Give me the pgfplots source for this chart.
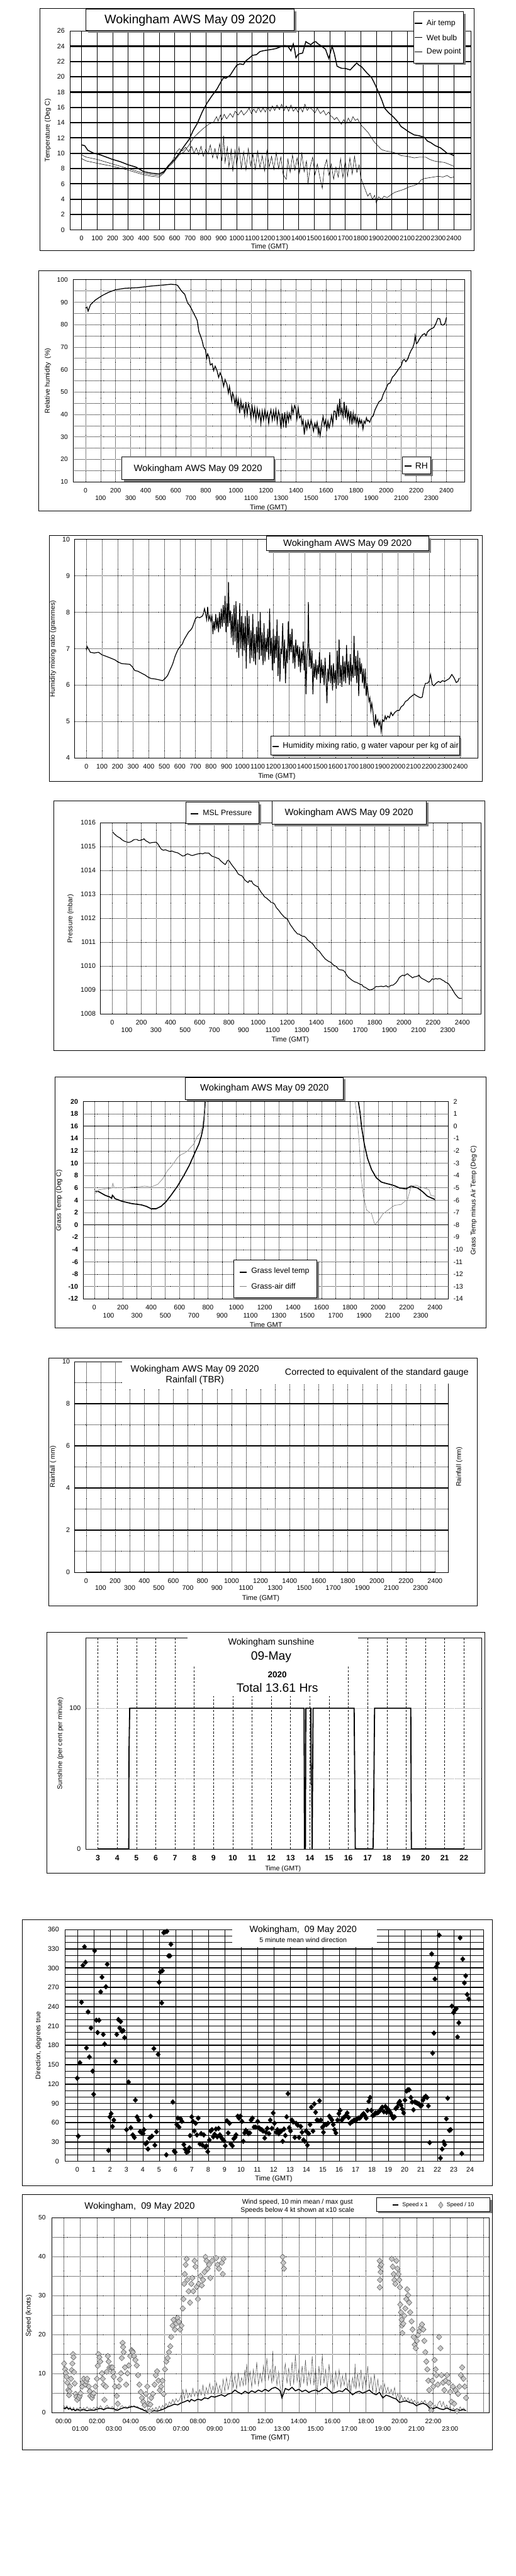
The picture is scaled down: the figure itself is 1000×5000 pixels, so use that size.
\documentclass[border=0pt]{standalone}
\usepackage{fontspec}
\setmainfont{Liberation Sans}
\usepackage{pgfplots}
\pgfplotsset{compat=1.18}

\newcommand\fs[1]{\fontsize{#1}{#1}\selectfont}
% horizontal / vertical reference lines inside an axis
\newcommand\hl[4]{\pgfplotsinvokeforeach{#2}{\draw[#1] (axis cs:#3,##1) -- (axis cs:#4,##1);}}
\newcommand\vl[4]{\pgfplotsinvokeforeach{#2}{\draw[#1] (axis cs:##1,#3) -- (axis cs:##1,#4);}}
% box with drop shadow (used in the x=1pt,y=-1pt scope)
\newcommand\shbox[4]{\fill[black!50] ({#1+4},{#2+4}) rectangle ({#3+4},{#4+4});
  \filldraw[fill=white,draw=black,line width=1pt] (#1,#2) rectangle (#3,#4);}

\tikzset{dg/.style={black,line width=0.6pt,dash pattern=on 0.9pt off 1.5pt}}
\pgfplotsset{wk/.style={scale only axis, anchor=south west,
  axis line style={line width=0.9pt}, tick style={draw=none},
  major tick length=0pt, minor tick length=0pt,
  /pgf/number format/assume math mode=true, /pgf/number format/1000 sep={},
  tick label style={font=\fs{13}}}}

\begin{document}
\begin{tikzpicture}
\path[use as bounding box] (0pt,0pt) rectangle (1000pt,-5000pt);
\fill[white] (0pt,0pt) rectangle (1000pt,-5000pt);

% ================= 1. Temperatures =================
\begin{axis}[wk, at={(136pt,-446pt)}, width=778pt, height=386pt,
  xmin=-74, xmax=2512, ymin=0, ymax=26,
  xtick={0,100,...,2400}, ytick={0,2,...,26},
  xticklabel style={yshift=-8pt}, yticklabel style={xshift=-7pt}]
\vl{black,line width=0.7pt}{0,100,...,2400}{0}{26}
\hl{black,line width=2.6pt}{2,4,...,24}{-74}{2512}
% dew point
\addplot[black,line width=0.7pt] coordinates {(0,9.3)(30,9.0)(100,8.7)(200,8.3)(300,7.8)(400,7.2)(450,7.0)(500,6.9)(530,7.4)(560,8.3)(590,9.2)(610,10.1)(630,10.6)(650,10.3)(670,10.8)(690,10.2)(710,10.9)(725,10.0)(740,10.7)(755,9.8)(770,10.9)(785,9.6)(800,10.5)(815,9.9)(830,11.1)(845,9.4)(860,10.6)(875,9.3)(890,11.3)(905,9.0)(916,12.3)(925,8.8)(940,10.8)(950,8.2)(965,10.5)(975,7.6)(990,10.4)(1000,8.4)(1015,10.8)(1030,8.0)(1045,10.2)(1060,7.8)(1075,10.6)(1090,8.3)(1105,9.9)(1120,7.9)(1135,10.3)(1150,8.1)(1165,9.7)(1180,7.7)(1195,10.4)(1210,8.2)(1225,9.6)(1240,7.9)(1255,10.1)(1270,8.0)(1285,9.5)(1300,7.2)(1320,6.6)(1330,9.2)(1345,7.5)(1360,9.8)(1375,7.8)(1390,9.4)(1405,7.4)(1420,10.0)(1435,7.6)(1450,9.0)(1460,6.1)(1475,8.3)(1490,9.5)(1505,7.2)(1520,8.6)(1535,7.0)(1552,5.4)(1565,8.1)(1580,9.2)(1595,7.1)(1610,8.6)(1625,6.6)(1640,8.2)(1655,6.9)(1670,9.3)(1685,6.8)(1700,9.0)(1715,7.0)(1730,9.4)(1745,7.3)(1760,9.6)(1775,7.5)(1790,8.5)(1800,6.8)(1815,6.0)(1830,5.2)(1845,4.4)(1860,4.8)(1875,4.0)(1890,4.5)(1900,3.5)(1915,4.3)(1935,4.0)(1950,4.4)(1970,4.2)(1996,4.6)(2020,4.9)(2050,5.1)(2080,5.3)(2110,5.6)(2145,5.8)(2170,6.0)(2188,6.5)(2210,6.7)(2240,6.8)(2270,6.9)(2300,7.0)(2330,6.9)(2357,7.1)(2380,6.8)(2399,6.9)};
% wet bulb
\addplot[black,line width=0.7pt] coordinates {(0,9.8)(30,9.5)(100,9.2)(200,8.6)(300,8.0)(350,7.7)(400,7.4)(450,7.2)(500,7.1)(530,7.5)(560,8.2)(600,9.0)(630,9.8)(661,10.2)(690,11.0)(725,12.1)(760,12.8)(788,13.3)(820,13.8)(852,14.1)(870,14.8)(880,14.2)(895,15.0)(905,14.4)(920,15.1)(935,14.5)(958,15.2)(975,14.7)(990,15.5)(1010,15.0)(1030,15.6)(1045,15.0)(1064,15.4)(1080,15.9)(1095,15.2)(1110,15.8)(1125,15.3)(1140,16.0)(1155,15.4)(1170,15.9)(1185,15.4)(1200,16.1)(1215,15.5)(1230,16.2)(1245,15.6)(1260,16.3)(1276,15.7)(1290,16.4)(1305,15.6)(1320,16.2)(1335,15.5)(1350,16.3)(1365,15.5)(1382,15.9)(1395,15.4)(1410,16.0)(1425,15.4)(1440,16.4)(1455,15.6)(1470,16.0)(1488,15.7)(1505,15.3)(1520,15.9)(1540,15.2)(1560,15.6)(1575,15.0)(1594,15.4)(1605,14.9)(1615,14.8)(1630,14.4)(1645,14.7)(1658,14.3)(1675,13.8)(1690,14.4)(1705,13.9)(1720,14.6)(1735,14.0)(1750,14.8)(1764,14.3)(1780,14.5)(1790,14.1)(1806,13.6)(1830,13.1)(1848,12.7)(1870,12.0)(1890,11.4)(1910,11.0)(1933,10.5)(1960,10.3)(1996,10.2)(2030,10.0)(2060,9.7)(2100,9.6)(2145,9.4)(2180,9.5)(2219,9.5)(2245,9.2)(2272,9.0)(2300,8.9)(2340,8.8)(2378,8.5)(2399,8.3)};
% air temperature
\addplot[black,line width=1.8pt] coordinates {(0,11.1)(20,11.0)(40,10.4)(80,10.0)(120,9.8)(160,9.5)(200,9.2)(250,8.9)(300,8.5)(350,8.2)(400,7.6)(450,7.4)(500,7.3)(530,7.6)(560,8.4)(600,9.2)(630,10.0)(660,10.9)(693,11.8)(720,13.0)(746,13.9)(780,15.5)(810,16.6)(840,17.5)(873,18.4)(900,19.4)(916,19.9)(930,19.8)(958,20.2)(980,20.9)(1000,21.5)(1020,21.7)(1043,21.6)(1060,22.1)(1085,22.5)(1100,22.8)(1128,22.9)(1150,23.3)(1170,23.4)(1200,23.5)(1230,23.6)(1255,23.7)(1280,23.9)(1297,24.0)(1310,24.1)(1329,24.0)(1340,23.7)(1350,23.4)(1365,24.3)(1375,23.4)(1382,22.5)(1395,22.9)(1403,23.0)(1425,23.1)(1446,24.6)(1460,24.4)(1478,24.2)(1495,24.5)(1510,24.6)(1525,24.3)(1541,24.1)(1560,23.8)(1573,23.6)(1585,22.9)(1594,22.4)(1605,23.2)(1615,24.0)(1630,23.0)(1647,21.4)(1665,21.2)(1679,21.1)(1700,21.1)(1732,20.9)(1755,21.4)(1774,21.8)(1790,21.5)(1806,21.3)(1840,20.5)(1870,19.9)(1890,19.1)(1912,18.1)(1935,17.0)(1954,15.9)(1980,15.3)(2008,14.8)(2040,14.1)(2060,13.5)(2082,13.2)(2110,12.8)(2145,12.4)(2175,12.3)(2209,12.1)(2230,11.6)(2251,11.4)(2280,11.0)(2315,10.7)(2340,10.3)(2357,10.0)(2380,9.9)(2399,9.7)};
\end{axis}

% ================= 2. Relative humidity =================
\begin{axis}[wk, at={(142pt,-935pt)}, width=759pt, height=392pt,
  xmin=-82, xmax=2520, ymin=10, ymax=100,
  xtick={0,200,...,2400}, extra x ticks={100,300,...,2300},
  extra x tick style={xticklabel style={yshift=-15pt}},
  ytick={10,20,...,100}, tick label style={font=\fs{12.5}},
  xticklabel style={yshift=-9pt}, yticklabel style={xshift=-7pt}]
\vl{dg}{0,100,...,2400}{10}{100}
\hl{dg}{15,20,...,95}{-82}{2520}
\addplot[black,line width=1.6pt] coordinates {(0,87.4)(10,87.8)(17,86)(33,88.9)(66,91)(109,92.9)(153,94.4)(197,95.5)(262,96.2)(350,96.5)(437,97.2)(525,97.7)(568,98)(600,97.8)(612,97.5)(638,95)(660,93.5)(667,92.0)(680,89.5)(689,88.9)(705,87)(721,84.8)(735,83)(743,81.8)(754,76.8)(765,75)(776,72.7)(785,70)(798,68.7)(805,65)(812,67)(820,65.7)(830,62)(842,62.6)(852,59.5)(862,61.5)(874,59.6)(885,56.5)(895,58.5)(907,56.6)(918,52.5)(928,55.5)(940,53.5)(950,49.5)(957,52.5)(962,50.5)(972,46)(978,49.5)(984,48.5)(994,44.5)(1002,47.8)(1010,43.5)(1016,46.5)(1025,40.5)(1033,46.0)(1040,42.5)(1049,44.4)(1058,39.5)(1066,45.5)(1075,40.0)(1083,44.8)(1093,42.4)(1100,38.5)(1108,43.5)(1117,39.0)(1125,43.0)(1133,37.5)(1142,42.5)(1150,38.5)(1158,41.4)(1166,36.0)(1175,41.5)(1184,37.5)(1192,41.8)(1200,38.0)(1210,41.0)(1218,36.0)(1224,39.4)(1233,42.0)(1242,37.5)(1250,41.5)(1258,38.0)(1266,42.0)(1275,36.5)(1283,41.5)(1290,39.9)(1300,33.5)(1308,40.5)(1316,35.5)(1325,41.0)(1333,34.0)(1341,40.5)(1350,37.0)(1355,40.4)(1365,38.0)(1372,43.5)(1380,40.5)(1390,44.0)(1399,42.4)(1406,38.0)(1414,43.0)(1422,38.5)(1432,39.4)(1440,35.5)(1447,37.5)(1455,31.0)(1464,36.4)(1472,33.5)(1480,37.0)(1490,34.0)(1500,37.5)(1508,35.3)(1516,32.5)(1525,36.0)(1533,34.0)(1540,36.5)(1548,31.5)(1552,33.8)(1560,30.5)(1570,35.5)(1580,39.0)(1588,35.0)(1596,37.4)(1605,33.5)(1612,37.0)(1620,34.0)(1628,36.4)(1636,39.5)(1644,35.5)(1652,41.5)(1661,41.4)(1668,37.5)(1676,44.5)(1684,39.0)(1690,47.0)(1697,40.5)(1705,42.4)(1713,39.0)(1720,45.5)(1728,38.5)(1735,44.0)(1742,38.0)(1749,41.4)(1757,36.5)(1764,41.5)(1772,35.5)(1780,40.5)(1786,37.0)(1793,39.4)(1800,36.0)(1808,38.5)(1815,35.0)(1822,38.0)(1829,36.0)(1836,37.4)(1845,33.5)(1852,37.0)(1860,36.0)(1868,38.5)(1875,37.0)(1880,37.4)(1890,36.5)(1900,38.5)(1913,39.4)(1925,42.0)(1935,43.4)(1950,45.5)(1968,46.5)(1980,49.0)(1995,51.0)(2011,53.5)(2025,54.0)(2040,56.5)(2055,57.6)(2070,59.0)(2085,60.5)(2099,61.6)(2110,64.0)(2120,64.5)(2130,63.5)(2142,64.6)(2155,67.0)(2165,68.5)(2175,69.6)(2185,71.5)(2192,75.0)(2200,71.5)(2208,72.0)(2220,73.5)(2230,74.5)(2241,75.5)(2255,76.0)(2265,75.0)(2273,76.7)(2290,77.8)(2305,78.3)(2317,78.8)(2330,80.5)(2343,82.8)(2356,82.6)(2365,80.0)(2378,79.8)(2390,80.5)(2400,83.1)};
\end{axis}

% ================= 3. Mixing ratio =================
\begin{axis}[wk, at={(145pt,-1471pt)}, width=782pt, height=424pt,
  xmin=-75, xmax=2513, ymin=4, ymax=10,
  xtick={0,100,...,2400}, ytick={4,5,...,10},
  xticklabel style={yshift=-9pt}, yticklabel style={xshift=-6pt}]
\vl{dg}{0,100,...,2400}{4}{10}
\hl{dg}{5,6,...,9}{-75}{2513}
\addplot[black,line width=1.5pt] coordinates {(0,6.95)(4,7.06)(15,6.98)(25,6.90)(50,6.88)(78,6.90)(100,6.83)(120,6.80)(150,6.75)(184,6.69)(200,6.64)(226,6.59)(250,6.58)(278,6.57)(295,6.50)(310,6.40)(330,6.38)(352,6.33)(375,6.28)(395,6.22)(415,6.18)(437,6.17)(460,6.15)(489,6.12)(505,6.18)(521,6.26)(535,6.40)(553,6.57)(570,6.80)(585,6.95)(600,7.05)(616,7.13)(627,7.25)(637,7.32)(655,7.45)(669,7.51)(680,7.58)(690,7.70)(700,7.82)(711,7.87)(727,7.85)(743,7.89)(750,7.95)(758,8.10)(764,7.98)(772,7.80)(778,8.15)(785,7.79)(792,7.90)(799,7.75)(806,7.89)(812,7.40)(818,7.75)(824,7.50)(830,7.95)(836,7.55)(842,7.85)(848,7.45)(854,8.00)(860,7.55)(866,8.10)(872,7.60)(878,8.20)(884,7.70)(890,8.45)(896,7.45)(902,8.25)(908,7.60)(912,8.83)(918,7.70)(924,8.05)(930,7.30)(936,7.95)(942,7.10)(948,8.20)(954,7.20)(960,8.30)(966,6.90)(972,7.80)(978,6.75)(984,8.25)(990,7.00)(996,7.90)(1002,6.80)(1008,7.70)(1014,6.95)(1020,7.90)(1026,6.45)(1032,8.05)(1038,7.10)(1044,7.90)(1050,6.60)(1056,7.50)(1062,6.75)(1068,7.95)(1074,6.65)(1080,7.40)(1086,6.55)(1092,7.60)(1098,6.90)(1104,7.75)(1110,6.70)(1116,8.00)(1122,6.80)(1128,7.45)(1134,6.55)(1140,7.70)(1146,6.65)(1152,7.30)(1158,6.90)(1164,7.55)(1170,6.70)(1176,8.10)(1182,6.80)(1188,7.30)(1194,6.40)(1200,7.55)(1206,6.60)(1212,7.35)(1218,6.75)(1224,7.80)(1230,6.25)(1236,7.35)(1242,6.10)(1248,7.00)(1254,6.85)(1260,7.70)(1266,6.45)(1272,7.25)(1278,6.05)(1284,7.00)(1290,6.60)(1296,7.75)(1302,6.70)(1308,7.40)(1314,6.90)(1320,7.55)(1326,6.60)(1332,7.10)(1338,6.45)(1344,7.25)(1350,6.80)(1356,7.10)(1362,6.50)(1368,7.05)(1374,6.35)(1380,6.95)(1386,6.60)(1392,7.20)(1398,6.40)(1404,7.00)(1410,5.75)(1416,6.85)(1422,7.10)(1425,8.28)(1430,6.50)(1436,7.00)(1442,6.45)(1448,6.95)(1454,5.75)(1460,6.60)(1466,6.20)(1472,6.70)(1478,6.15)(1484,6.55)(1490,6.30)(1496,6.90)(1502,6.05)(1508,6.70)(1514,6.20)(1520,6.55)(1526,6.00)(1532,6.75)(1538,6.20)(1544,5.50)(1550,6.45)(1556,6.10)(1562,6.90)(1568,6.05)(1574,6.55)(1580,5.85)(1586,6.60)(1592,6.05)(1598,6.40)(1604,5.90)(1610,6.95)(1616,6.00)(1622,7.25)(1628,6.05)(1634,6.55)(1640,5.95)(1646,6.80)(1652,6.10)(1658,6.65)(1664,6.05)(1670,7.10)(1676,6.20)(1682,6.65)(1688,6.00)(1694,6.85)(1700,6.10)(1706,6.55)(1712,6.20)(1718,7.35)(1724,6.25)(1730,6.80)(1736,6.05)(1742,6.95)(1748,5.70)(1754,6.75)(1760,6.30)(1766,6.60)(1772,6.05)(1778,6.45)(1784,5.90)(1790,6.45)(1796,5.70)(1802,6.05)(1808,5.80)(1814,5.55)(1820,5.65)(1826,5.30)(1832,5.50)(1840,5.25)(1845,4.95)(1850,4.87)(1856,5.20)(1862,4.95)(1870,5.05)(1878,4.90)(1885,5.00)(1892,4.73)(1900,5.05)(1910,5.00)(1918,5.15)(1924,5.06)(1935,5.15)(1945,5.10)(1955,5.25)(1966,5.16)(1980,5.25)(1995,5.30)(2008,5.30)(2020,5.40)(2035,5.45)(2048,5.55)(2061,5.58)(2075,5.65)(2090,5.70)(2105,5.75)(2114,5.72)(2130,5.68)(2145,5.65)(2156,5.67)(2165,5.90)(2177,6.05)(2190,6.05)(2200,6.10)(2209,6.29)(2220,6.02)(2230,5.98)(2245,6.05)(2260,6.10)(2272,6.07)(2285,6.12)(2300,6.10)(2315,6.14)(2330,6.18)(2346,6.29)(2360,6.20)(2374,6.07)(2385,6.10)(2393,6.19)};
\end{axis}

% ================= 4. Pressure =================
\begin{axis}[wk, at={(195pt,-1968pt)}, width=738pt, height=371pt,
  xmin=-80, xmax=2528, ymin=1008, ymax=1016,
  xtick={0,200,...,2400}, extra x ticks={100,300,...,2300},
  extra x tick style={xticklabel style={yshift=-15pt}},
  ytick={1008,1009,...,1016},
  xticklabel style={yshift=-8pt}, yticklabel style={xshift=-6pt}]
\vl{dg}{0,100,...,2400}{1008}{1016}
\hl{dg}{1009,1010,...,1015}{-80}{2528}
\addplot[black,line width=1.4pt] coordinates {(5,1015.62)(12,1015.55)(20,1015.51)(30,1015.45)(43,1015.40)(55,1015.36)(65,1015.30)(80,1015.24)(88,1015.22)(100,1015.20)(110,1015.18)(122,1015.19)(135,1015.23)(145,1015.28)(155,1015.30)(170,1015.30)(180,1015.26)(189,1015.26)(200,1015.28)(210,1015.30)(218,1015.33)(230,1015.25)(245,1015.20)(257,1015.15)(270,1015.17)(285,1015.18)(302,1015.19)(315,1015.10)(325,1015.00)(336,1014.90)(350,1014.85)(365,1014.87)(381,1014.83)(395,1014.80)(410,1014.82)(425,1014.78)(437,1014.76)(450,1014.74)(465,1014.68)(482,1014.61)(495,1014.62)(505,1014.66)(515,1014.70)(527,1014.68)(540,1014.64)(550,1014.63)(561,1014.65)(575,1014.68)(590,1014.70)(606,1014.72)(620,1014.70)(635,1014.74)(650,1014.73)(662,1014.73)(675,1014.65)(685,1014.60)(696,1014.58)(710,1014.55)(720,1014.52)(730,1014.50)(745,1014.40)(760,1014.32)(775,1014.25)(785,1014.35)(790,1014.42)(797,1014.43)(805,1014.38)(815,1014.28)(825,1014.20)(835,1014.12)(842,1014.07)(855,1013.95)(865,1013.85)(880,1013.80)(890,1013.78)(899,1013.70)(910,1013.60)(920,1013.55)(932,1013.50)(940,1013.58)(948,1013.55)(955,1013.57)(965,1013.45)(975,1013.40)(989,1013.35)(1000,1013.32)(1010,1013.20)(1020,1013.10)(1034,1012.99)(1045,1012.90)(1060,1012.84)(1070,1012.78)(1079,1012.74)(1090,1012.66)(1100,1012.66)(1113,1012.60)(1125,1012.45)(1140,1012.35)(1158,1012.20)(1170,1012.12)(1180,1012.05)(1190,1012.02)(1203,1011.95)(1215,1011.80)(1225,1011.70)(1235,1011.62)(1248,1011.50)(1260,1011.42)(1270,1011.35)(1282,1011.34)(1295,1011.28)(1305,1011.25)(1315,1011.25)(1327,1011.20)(1340,1011.10)(1350,1011.05)(1360,1011.00)(1372,1010.95)(1385,1010.85)(1395,1010.75)(1406,1010.69)(1420,1010.62)(1432,1010.52)(1440,1010.45)(1450,1010.38)(1460,1010.30)(1472,1010.25)(1483,1010.20)(1495,1010.17)(1505,1010.12)(1515,1010.05)(1525,1010.02)(1537,1009.98)(1550,1009.88)(1560,1009.85)(1572,1009.84)(1585,1009.82)(1595,1009.76)(1605,1009.65)(1618,1009.54)(1630,1009.48)(1642,1009.42)(1652,1009.38)(1663,1009.34)(1675,1009.32)(1688,1009.28)(1700,1009.24)(1712,1009.22)(1722,1009.14)(1732,1009.12)(1743,1009.08)(1755,1009.03)(1766,1009.00)(1778,1009.02)(1790,1009.05)(1799,1009.10)(1810,1009.15)(1822,1009.14)(1833,1009.15)(1845,1009.16)(1858,1009.14)(1870,1009.16)(1878,1009.18)(1890,1009.13)(1901,1009.15)(1912,1009.20)(1923,1009.20)(1935,1009.25)(1945,1009.30)(1957,1009.40)(1968,1009.52)(1980,1009.58)(1991,1009.62)(2003,1009.60)(2015,1009.65)(2025,1009.68)(2035,1009.62)(2045,1009.58)(2059,1009.51)(2070,1009.55)(2080,1009.56)(2092,1009.58)(2104,1009.62)(2115,1009.52)(2125,1009.48)(2138,1009.44)(2150,1009.40)(2160,1009.36)(2171,1009.33)(2182,1009.38)(2194,1009.47)(2205,1009.45)(2218,1009.48)(2230,1009.46)(2240,1009.48)(2250,1009.47)(2262,1009.42)(2275,1009.38)(2284,1009.33)(2295,1009.30)(2306,1009.26)(2318,1009.15)(2330,1009.05)(2340,1008.94)(2351,1008.83)(2362,1008.75)(2372,1008.68)(2381,1008.65)(2396,1008.65)};
\end{axis}

% ================= 5. Grass temperature =================
\begin{axis}[wk, at={(161pt,-2521pt)}, width=709pt, height=383pt,
  xmin=-80, xmax=2495, ymin=-12, ymax=20,
  xtick={0,200,...,2400}, extra x ticks={100,300,...,2300},
  extra x tick style={xticklabel style={yshift=-16pt}},
  ytick={-12,-10,...,20},
  yticklabels={-12,-10,-8,-6,-4,-2,0,2,4,6,8,10,12,14,16,18,20},
  xticklabel style={yshift=-8pt},
  yticklabel style={xshift=-6pt,font=\bfseries\fs{13}}]
\vl{dg}{0,100,...,2400}{-12}{20}
\hl{dg}{-10,-8,...,-2}{-80}{2495}
\hl{dg}{2,4,...,14}{-80}{2495}
\hl{dg}{18}{-80}{2495}
\hl{black,line width=0.8pt}{0,16}{-80}{2495}
\addplot[black,line width=2pt] coordinates {(7,5.45)(30,5.39)(76,4.79)(111,4.49)(122,4.3)(127,4.79)(135,4.6)(146,4.25)(192,3.84)(262,3.45)(331,3.24)(366,3.00)(401,2.61)(435,2.61)(470,3.00)(505,3.75)(540,4.79)(586,6.28)(632,8.07)(667,9.56)(702,11.35)(737,13.14)(753,14.33)(767,15.82)(776,18.21)(781,20)(800,24)(1840,24)(1860,20)(1872,18.2)(1883,15.8)(1902,13.1)(1925,10.75)(1953,8.96)(1987,7.62)(2022,6.94)(2050,6.75)(2080,6.58)(2115,6.34)(2150,5.98)(2196,5.83)(2231,6.28)(2277,5.98)(2312,5.39)(2347,4.64)(2398,4.13)};
\end{axis}
\begin{axis}[wk, at={(161pt,-2521pt)}, width=709pt, height=383pt,
  xmin=-80, xmax=2495, ymin=-14, ymax=2,
  axis x line=none, axis y line*=right,
  ytick={-14,-13,...,2},
  yticklabels={-14,-13,-12,-11,-10,-9,-8,-7,-6,-5,-4,-3,-2,-1,0,1,2},
  yticklabel style={xshift=6pt}]
\addplot[black!50,line width=0.8pt] coordinates {(7,-5.46)(30,-5.16)(76,-5.08)(123,-5.01)(130,-4.64)(141,-5.01)(180,-4.98)(215,-5.01)(260,-4.95)(308,-4.93)(354,-4.86)(401,-4.93)(447,-4.71)(482,-4.26)(516,-3.59)(540,-3.3)(563,-2.92)(586,-2.55)(609,-2.32)(632,-2.2)(655,-2.03)(680,-1.7)(702,-1.43)(725,-0.83)(748,-0.53)(762,0.06)(771,0.66)(785,2)(795,4)(1830,4)(1837,2)(1849,0.96)(1865,-1.13)(1879,-4.11)(1895,-5.6)(1918,-6.8)(1953,-7.1)(1976,-7.99)(2000,-7.69)(2034,-7.1)(2069,-6.80)(2115,-6.42)(2161,-6.35)(2208,-5.9)(2231,-4.86)(2266,-4.79)(2300,-4.95)(2324,-5.01)(2358,-5.16)(2370,-5.6)(2398,-5.68)};
\end{axis}

% ================= 6. Rainfall =================
\begin{axis}[wk, at={(145pt,-3052pt)}, width=724pt, height=409pt, clip=false,
  xmin=-78, xmax=2489, ymin=0, ymax=10,
  xtick={0,200,...,2400}, extra x ticks={100,300,...,2300},
  extra x tick style={xticklabel style={yshift=-14pt}},
  ytick={0,2,...,10},
  xticklabel style={yshift=-8pt}, yticklabel style={xshift=-6pt}]
\vl{dg}{0,100,...,2400}{0}{10}
\hl{dg}{1,3,...,9}{-78}{2489}
\hl{black,line width=2.2pt}{2,4,...,8}{-78}{2489}
\addplot[black,line width=2.6pt] coordinates {(0,0)(2400,0)};
\end{axis}

% ================= 7. Sunshine =================
\begin{axis}[wk, at={(167pt,-3589pt)}, width=767pt, height=410pt,
  xmin=2.385, xmax=22.91, ymin=0, ymax=150,
  xtick={3,4,...,22}, ytick={0,50,100}, yticklabels={0,,100},
  xticklabel style={yshift=-8pt,font=\bfseries\fs{15}}, yticklabel style={xshift=-7pt}]
\vl{black,line width=0.7pt,dash pattern=on 4pt off 3pt}{3,4,...,22}{0}{150}
\hl{black!45,line width=0.6pt,dash pattern=on 1pt off 1.5pt}{50,100}{2.385}{22.91}
\addplot[black,line width=2.2pt] coordinates {(3,0)(4.6,0)(4.61,67)(4.65,100)(13.70,100)(13.72,0)(13.77,0)(13.79,100)(14.05,100)(14.07,46)(14.1,46)(14.12,0)(14.14,46)(14.17,100)(16.30,100)(16.36,0)(17.28,0)(17.31,20)(17.36,100)(19.24,100)(19.27,0)(22,0)};
\end{axis}

% ================= 8. Wind direction =================
\begin{axis}[wk, at={(126pt,-4195pt)}, width=812pt, height=450pt, clip=false,
  xmin=-0.753, xmax=24.82, ymin=0, ymax=360,
  xtick={0,1,...,24}, ytick={0,30,...,360},
  xticklabel style={yshift=-8pt}, yticklabel style={xshift=-8pt}]
\vl{black,line width=0.7pt}{0,1,...,24}{0}{360}
\hl{black,line width=0.7pt}{10,20,...,350}{-0.753}{24.82}
\hl{black,line width=2.2pt}{30,60,...,330}{-0.753}{24.82}
\addplot[only marks, mark=diamond*, mark size=5pt, mark options={fill=black,draw=black,xscale=1.2}] coordinates {(0,129)(0.06,39)(0.16,153)(0.26,247)(0.34,304)(0.44,333)(0.5,309)(0.56,176)(0.66,232)(0.74,162)(0.84,207)(0.94,140)(1.0,104)(1.06,327)(1.16,219)(1.24,200)(1.33,219)(1.43,263)(1.51,286)(1.59,197)(1.67,182)(1.75,271)(1.83,306)(1.91,17)(1.99,69)(2.07,74)(2.15,54)(2.23,64)(2.33,155)(2.41,197)(2.51,220)(2.59,207)(2.65,217)(2.73,202)(2.81,203)(2.89,192)(3.01,49)(3.13,123)(3.27,52)(3.39,41)(3.49,37)(3.55,95)(3.65,69)(3.75,64)(3.84,46)(3.94,44)(4.02,43)(4.08,49)(4.18,27)(4.26,29)(4.32,19)(4.42,36)(4.48,70)(4.56,39)(4.68,175)(4.74,25)(4.84,46)(4.94,166)(5.0,278)(5.08,294)(5.16,246)(5.2,296)(5.28,355)(5.36,356)(5.44,10)(5.48,357)(5.58,319)(5.66,319)(5.72,337)(5.84,92)(5.92,16)(5.98,14)(6.08,57)(6.14,67)(6.22,53)(6.31,66)(6.39,62)(6.51,26)(6.59,19)(6.67,14)(6.77,15)(6.85,21)(6.89,40)(6.99,69)(7.07,62)(7.15,47)(7.23,59)(7.31,41)(7.39,67)(7.49,27)(7.57,43)(7.65,25)(7.73,41)(7.83,22)(7.89,24)(7.97,15)(8.07,33)(8.15,47)(8.23,49)(8.31,38)(8.39,42)(8.47,50)(8.55,38)(8.63,51)(8.71,41)(8.8,37)(8.88,34)(8.96,32)(9.04,24)(9.14,63)(9.22,44)(9.3,59)(9.38,27)(9.48,24)(9.56,35)(9.64,37)(9.7,41)(9.8,70)(9.88,67)(9.96,70)(10.06,62)(10.14,31)(10.22,44)(10.3,48)(10.38,46)(10.46,43)(10.54,44)(10.62,64)(10.7,67)(10.8,53)(10.9,53)(11.02,62)(11.1,52)(11.18,50)(11.27,49)(11.35,47)(11.45,36)(11.53,45)(11.61,51)(11.71,43)(11.79,64)(11.89,51)(11.97,75)(12.05,59)(12.15,45)(12.23,49)(12.31,43)(12.39,47)(12.47,47)(12.55,31)(12.63,50)(12.71,40)(12.79,69)(12.87,105)(12.95,52)(13.03,47)(13.11,64)(13.19,61)(13.29,37)(13.37,59)(13.47,56)(13.55,37)(13.65,54)(13.73,45)(13.82,33)(13.9,31)(13.98,47)(14.06,25)(14.14,43)(14.22,57)(14.3,84)(14.4,47)(14.48,89)(14.56,76)(14.64,64)(14.72,63)(14.8,94)(14.88,64)(14.98,53)(15.04,45)(15.12,57)(15.22,57)(15.32,59)(15.4,70)(15.48,67)(15.56,64)(15.64,57)(15.72,49)(15.8,44)(15.9,64)(15.98,74)(16.06,79)(16.16,64)(16.24,67)(16.33,69)(16.41,71)(16.49,75)(16.57,68)(16.67,59)(16.75,61)(16.83,62)(16.91,64)(16.99,64)(17.07,65)(17.17,67)(17.25,67)(17.33,69)(17.41,72)(17.49,74)(17.57,71)(17.65,67)(17.73,79)(17.81,93)(17.89,99)(17.97,79)(18.05,71)(18.13,72)(18.21,75)(18.31,75)(18.39,76)(18.47,78)(18.55,81)(18.63,84)(18.73,77)(18.82,85)(18.9,76)(18.98,81)(19.06,78)(19.14,75)(19.22,71)(19.3,67)(19.38,69)(19.46,82)(19.54,84)(19.62,90)(19.7,93)(19.78,87)(19.86,81)(19.94,75)(20.02,95)(20.12,109)(20.2,111)(20.28,111)(20.38,99)(20.46,92)(20.54,80)(20.62,92)(20.7,91)(20.78,90)(20.88,89)(20.96,86)(21.04,87)(21.12,95)(21.2,99)(21.29,101)(21.37,99)(21.45,86)(21.53,29)(21.65,322)(21.71,168)(21.79,199)(21.85,283)(21.93,302)(22.01,307)(22.11,351)(22.19,5)(22.29,19)(22.39,30)(22.45,26)(22.55,66)(22.63,98)(22.73,48)(22.81,49)(22.89,241)(22.99,231)(23.07,235)(23.15,237)(23.23,193)(23.31,215)(23.39,347)(23.49,12)(23.55,314)(23.65,277)(23.73,288)(23.82,259)(23.92,252)};
\end{axis}

% ================= 9. Wind speed =================
\begin{axis}[wk, at={(100pt,-4683pt)}, width=849pt, height=379pt,
  xmin=-0.708, xmax=25.33, ymin=0, ymax=50,
  xtick={0,2,...,22},
  xticklabels={00:00,02:00,04:00,06:00,08:00,10:00,12:00,14:00,16:00,18:00,20:00,22:00},
  extra x ticks={1,3,...,23},
  extra x tick labels={01:00,03:00,05:00,07:00,09:00,11:00,13:00,15:00,17:00,19:00,21:00,23:00},
  extra x tick style={xticklabel style={yshift=-14pt}},
  ytick={0,10,...,50}, tick label style={font=\fs{12.5}},
  xticklabel style={yshift=-9pt}, yticklabel style={xshift=-8pt}]
\vl{dg}{0,1,...,25}{0}{50}
\hl{dg}{5,10,...,45}{-0.708}{25.33}
\addplot[black!65,line width=0.7pt] coordinates {(0,2.0)(0.1,1.2)(0.2,1.8)(0.3,1.0)(0.4,1.5)(0.5,0.6)(0.6,1.4)(0.7,0.5)(0.8,1.2)(0.9,0.8)(1.0,1.6)(1.1,0.7)(1.2,1.3)(1.3,0.8)(1.4,1.5)(1.5,0.9)(1.6,1.2)(1.7,0.6)(1.8,1.4)(1.9,0.9)(2.0,1.6)(2.1,1.0)(2.2,1.8)(2.3,1.2)(2.4,0.6)(2.5,1.5)(2.6,1.9)(2.7,1.3)(2.8,1.0)(2.9,1.6)(3.0,1.1)(3.1,0.5)(3.2,1.2)(3.3,0.7)(3.4,1.5)(3.5,1.8)(3.6,1.3)(3.7,1.6)(3.8,1.2)(3.9,1.7)(4.0,1.9)(4.1,1.5)(4.2,1.8)(4.3,1.4)(4.4,1.6)(4.5,1.2)(4.6,0.8)(4.7,1.1)(4.8,0.4)(4.9,0.8)(5.0,0.2)(5.1,0.9)(5.2,0.3)(5.3,1.2)(5.4,0.5)(5.5,1.4)(5.6,0.6)(5.7,1.7)(5.8,0.8)(5.9,1.9)(6.0,1.2)(6.1,2.4)(6.2,1.5)(6.3,2.8)(6.4,2.2)(6.5,3.4)(6.6,2.5)(6.7,3.6)(6.8,2.8)(6.9,3.3)(7.0,4.5)(7.05,2.8)(7.1,5.8)(7.2,3.5)(7.3,6.0)(7.4,3.8)(7.5,5.0)(7.6,4.0)(7.7,6.2)(7.8,4.2)(7.9,5.5)(8.0,3.8)(8.1,6.0)(8.2,4.5)(8.3,7.0)(8.4,4.2)(8.5,6.5)(8.6,4.8)(8.7,7.5)(8.8,5.0)(8.9,6.8)(9.0,4.6)(9.1,7.8)(9.2,5.2)(9.3,7.0)(9.4,4.8)(9.5,8.5)(9.6,5.5)(9.7,9.0)(9.8,6.0)(9.9,8.0)(10.0,10.5)(10.1,6.5)(10.2,9.5)(10.3,6.0)(10.4,10.0)(10.5,6.8)(10.6,9.0)(10.7,7.0)(10.8,11.0)(10.85,7.0)(10.9,12.5)(11.0,7.5)(11.1,10.5)(11.2,6.5)(11.3,11.0)(11.4,7.2)(11.5,13.0)(11.6,7.0)(11.7,10.0)(11.8,7.8)(11.9,12.0)(12.0,8.0)(12.1,14.0)(12.2,8.5)(12.3,11.0)(12.4,7.5)(12.45,15.8)(12.5,8.0)(12.6,12.0)(12.7,7.0)(12.8,10.5)(12.9,6.5)(13.0,4.0)(13.1,9.5)(13.2,12.5)(13.3,7.5)(13.4,11.5)(13.5,6.8)(13.6,13.0)(13.7,7.2)(13.8,14.8)(13.9,8.0)(14.0,11.0)(14.1,6.5)(14.2,12.0)(14.3,7.5)(14.4,13.5)(14.5,6.8)(14.6,10.5)(14.7,7.5)(14.8,14.5)(14.9,7.0)(15.0,11.5)(15.1,4.5)(15.2,12.0)(15.3,7.0)(15.4,14.8)(15.5,7.5)(15.6,11.0)(15.7,6.0)(15.8,12.5)(15.9,7.5)(16.0,10.0)(16.1,6.0)(16.2,10.5)(16.3,7.0)(16.4,11.0)(16.5,6.5)(16.6,9.5)(16.7,7.0)(16.8,10.0)(16.9,6.0)(17.0,8.5)(17.1,5.5)(17.2,9.0)(17.3,6.5)(17.35,12.5)(17.4,6.0)(17.5,10.0)(17.6,6.5)(17.7,11.0)(17.8,6.0)(17.9,9.5)(18.0,6.5)(18.1,12.0)(18.2,6.0)(18.3,9.0)(18.4,5.5)(18.5,10.0)(18.6,5.0)(18.7,8.5)(18.8,5.5)(18.9,7.0)(19.0,4.5)(19.1,7.5)(19.2,5.0)(19.3,6.5)(19.4,4.8)(19.5,6.0)(19.6,4.5)(19.7,6.5)(19.8,3.5)(19.9,5.0)(20.0,3.0)(20.1,4.5)(20.2,3.2)(20.3,4.0)(20.4,3.0)(20.5,3.8)(20.6,2.8)(20.7,3.5)(20.8,2.6)(20.9,3.2)(21.0,2.2)(21.1,2.8)(21.2,2.0)(21.3,3.0)(21.4,2.5)(21.5,3.2)(21.6,2.2)(21.7,1.5)(21.8,0.5)(21.9,1.5)(22.0,0.8)(22.1,2.0)(22.2,1.2)(22.3,2.5)(22.4,3.0)(22.5,1.5)(22.6,2.8)(22.7,1.2)(22.8,2.0)(22.9,1.0)(23.0,1.5)(23.1,0.5)(23.2,1.2)(23.3,0.3)(23.4,1.0)(23.5,0.5)(23.6,1.5)(23.7,0.8)(23.8,1.2)(23.9,0.8)};
\addplot[black,line width=1.8pt] coordinates {(0,1.3)(0.1,1.0)(0.2,1.4)(0.3,0.9)(0.4,1.1)(0.5,0.7)(0.6,0.9)(0.7,0.5)(0.8,0.8)(1.0,0.6)(1.2,0.8)(1.4,0.5)(1.6,0.7)(1.8,0.6)(2.0,0.9)(2.2,1.1)(2.4,0.8)(2.6,1.2)(2.8,1.1)(3.0,1.0)(3.2,0.6)(3.4,1.0)(3.6,1.3)(3.8,1.2)(4.0,1.5)(4.2,1.6)(4.4,1.3)(4.6,1.0)(4.8,0.6)(5.0,0.2)(5.2,0.3)(5.4,0.5)(5.6,0.4)(5.8,0.7)(6.0,1.0)(6.2,1.5)(6.4,1.8)(6.6,2.2)(6.8,2.0)(7.0,2.5)(7.2,2.8)(7.4,3.2)(7.5,2.8)(7.6,3.4)(7.8,3.0)(8.0,3.5)(8.2,3.2)(8.4,3.8)(8.6,3.6)(8.8,4.2)(9.0,4.0)(9.2,4.3)(9.4,4.6)(9.6,4.2)(9.8,4.8)(10.0,5.0)(10.2,5.8)(10.4,5.2)(10.6,4.8)(10.8,5.5)(11.0,5.0)(11.2,5.6)(11.4,5.2)(11.6,5.8)(11.8,5.4)(12.0,6.0)(12.2,5.5)(12.4,6.2)(12.6,6.5)(12.8,6.0)(12.9,5.5)(13.0,3.8)(13.1,5.0)(13.2,6.2)(13.4,5.8)(13.6,6.5)(13.8,5.6)(14.0,6.0)(14.2,5.4)(14.4,5.8)(14.6,5.2)(14.8,5.6)(15.0,5.8)(15.2,5.4)(15.4,6.0)(15.6,6.5)(15.8,5.8)(16.0,5.0)(16.2,5.2)(16.4,5.6)(16.6,5.4)(16.8,6.2)(17.0,5.5)(17.2,4.6)(17.4,5.2)(17.6,5.5)(17.8,5.0)(18.0,5.4)(18.2,5.8)(18.4,5.0)(18.6,4.6)(18.8,5.2)(19.0,3.8)(19.2,4.5)(19.4,4.2)(19.6,3.8)(19.8,3.5)(20.0,2.6)(20.2,2.9)(20.4,3.0)(20.6,2.6)(20.8,2.4)(21.0,1.8)(21.2,2.2)(21.4,2.4)(21.6,2.0)(21.8,1.2)(22.0,1.0)(22.2,1.4)(22.4,1.0)(22.6,0.8)(22.8,1.2)(23.0,0.8)(23.2,0.5)(23.4,0.9)(23.6,0.6)(23.8,0.8)(23.95,0.5)};
\addplot[only marks, mark=diamond*, mark size=5.5pt, mark options={fill=black!22,draw=black!75,line width=0.5pt,xscale=1.3}] coordinates {(0.04,12.6)(0.10,11.1)(0.14,10.2)(0.18,9.2)(0.23,7.7)(0.29,5.8)(0.33,4.5)(0.36,5.5)(0.39,6.7)(0.45,8.7)(0.49,10.9)(0.53,12.6)(0.57,15.0)(0.6,14.2)(0.63,10.4)(0.67,7.5)(0.72,4.8)(0.77,4.1)(0.82,3.3)(0.92,3.8)(0.97,4.3)(1.02,5.0)(1.11,6.7)(1.16,7.8)(1.21,8.7)(1.31,7.2)(1.36,8.0)(1.41,8.7)(1.51,6.7)(1.56,5.5)(1.60,4.3)(1.70,3.8)(1.75,4.5)(1.80,5.0)(1.90,6.7)(1.99,8.7)(2.04,12.0)(2.09,15.0)(2.14,14.2)(2.19,13.1)(2.29,10.1)(2.34,8.7)(2.39,7.2)(2.44,3.3)(2.52,6.7)(2.58,10.5)(2.64,14.5)(2.69,13.1)(2.74,11.6)(2.84,11.6)(2.91,11.6)(2.95,10.4)(2.99,9.2)(3.07,6.7)(3.17,4.3)(3.23,2.3)(3.30,6.7)(3.36,8.5)(3.42,10.1)(3.47,14.0)(3.52,17.9)(3.55,16.8)(3.58,15.5)(3.66,11.6)(3.73,7.2)(3.81,10.1)(3.89,12.1)(3.97,14.5)(4.05,16.0)(4.09,15.8)(4.13,15.5)(4.20,14.5)(4.28,13.5)(4.36,12.1)(4.44,9.6)(4.52,7.2)(4.60,5.3)(4.67,3.8)(4.75,2.8)(4.83,1.9)(4.91,4.8)(4.99,6.7)(5.06,2.3)(5.12,0.4)(5.17,2.1)(5.22,3.8)(5.32,4.8)(5.42,7.2)(5.49,9.6)(5.57,10.6)(5.65,8.2)(5.73,5.8)(5.81,6.7)(5.89,8.2)(5.96,4.8)(6.04,11.1)(6.12,13.1)(6.20,14.0)(6.28,15.5)(6.36,17.0)(6.41,19.4)(6.49,22.3)(6.55,23.8)(6.63,21.3)(6.71,22.8)(6.79,24.3)(6.86,23.3)(6.94,21.3)(7.02,22.3)(7.10,26.7)(7.14,29.1)(7.18,33.0)(7.22,35.5)(7.27,37.9)(7.33,39.4)(7.37,34.0)(7.45,31.1)(7.53,28.2)(7.61,33.0)(7.67,34.5)(7.72,31.1)(7.80,38.9)(7.86,37.4)(7.92,32.2)(8.00,29.1)(8.06,33.0)(8.15,35.0)(8.23,32.6)(8.31,34.0)(8.39,36.0)(8.45,39.9)(8.51,38.9)(8.58,36.9)(8.66,37.9)(8.74,34.5)(8.84,38.9)(9.09,39.6)(9.17,37.9)(9.25,36.9)(9.43,38.4)(9.48,35.5)(9.52,39.4)(13.04,39.9)(13.08,38.4)(13.12,36.9)(18.81,38.9)(18.85,37.4)(18.87,36.0)(18.83,34.0)(18.82,32.1)(18.91,37.9)(19.53,39.4)(19.59,37.4)(19.65,35.5)(19.69,34.0)(19.75,33.0)(19.81,38.9)(19.87,36.9)(19.93,35.5)(19.98,34.0)(20.02,32.1)(20.04,27.7)(20.08,25.7)(20.12,23.8)(20.14,22.3)(20.16,20.4)(20.22,22.8)(20.28,24.8)(20.34,26.7)(20.40,29.1)(20.45,31.6)(20.51,30.1)(20.57,28.2)(20.63,25.7)(20.71,23.4)(20.77,21.3)(20.83,19.4)(20.90,17.4)(20.96,16.5)(21.02,18.4)(21.10,19.9)(21.18,20.9)(21.26,21.8)(21.33,22.6)(21.41,21.3)(21.47,18.4)(21.53,15.5)(21.59,13.1)(21.65,11.1)(21.71,8.2)(21.76,5.8)(21.82,2.3)(21.88,0.6)(21.94,8.2)(22.00,6.7)(22.08,13.5)(22.14,11.1)(22.19,9.6)(22.27,7.2)(22.35,19.4)(22.43,16.5)(22.49,9.6)(22.58,7.7)(22.66,5.8)(22.74,8.2)(22.82,9.6)(22.92,7.7)(23.01,5.3)(23.09,2.8)(23.17,6.7)(23.25,2.3)(23.33,5.8)(23.41,0.4)(23.48,4.8)(23.56,6.7)(23.64,9.6)(23.72,11.6)(23.80,8.7)(23.88,6.7)(23.95,3.8)};
\end{axis}

% ================= frames, titles, legends, labels =================
\begin{scope}[x=1pt,y=-1pt]
% panel 1
\draw[line width=1.2pt] (78,17) rectangle (920,486);
\shbox{167}{18}{571}{59}
\node[font=\fs{24}] at (369,39) {Wokingham AWS May 09 2020};
\shbox{802}{23}{899}{122}
\draw[line width=2.5pt] (805,45)--(819,45);
\draw[line width=0.8pt] (805,73)--(819,73);
\draw[line width=0.8pt] (805,101)--(819,101);
\node[anchor=west,font=\fs{15}] at (824,45) {Air temp};
\node[anchor=west,font=\fs{15}] at (824,73) {Wet bulb};
\node[anchor=west,font=\fs{15}] at (824,101) {Dew point};
\node[rotate=90,font=\fs{13}] at (93,253) {Temperature (Deg C)};
\node[font=\fs{13.5}] at (523,479) {Time (GMT)};
% panel 2
\draw[line width=1.2pt] (75,526) rectangle (914,992);
\shbox{236}{887}{531}{931}
\node[font=\fs{18}] at (384,910) {Wokingham AWS May 09 2020};
\shbox{781}{887}{836}{920}
\draw[line width=2.5pt] (785,905)--(798,905);
\node[anchor=west,font=\fs{17}] at (802,904) {RH};
\node[rotate=90,font=\fs{13}] at (93,739) {Relative humidity\ \ (\%)};
\node[font=\fs{13.5}] at (521,986) {Time (GMT)};
% panel 3
\draw[line width=1.2pt] (96,1040) rectangle (936,1517);
\shbox{517}{1041}{832}{1069}
\node[font=\fs{18}] at (674,1056) {Wokingham AWS May 09 2020};
\shbox{525}{1429}{891}{1465}
\draw[line width=2.5pt] (528,1449)--(541,1449);
\node[anchor=west,font=\fs{15.5}] at (545,1448) {Humidity mixing ratio, g water vapour per kg of air};
\node[rotate=90,font=\fs{13}] at (103,1259) {Humidity mixing ratio (grammes)};
\node[font=\fs{13.5}] at (537,1507) {Time (GMT)};
% panel 4
\draw[line width=1.2pt] (104,1554) rectangle (940,2039);
\shbox{360}{1557}{502}{1598}
\draw[line width=2.5pt] (370,1579)--(385,1579);
\node[anchor=west,font=\fs{15}] at (390,1578) {MSL Pressure};
\shbox{528}{1554}{827}{1600}
\node[font=\fs{18}] at (677,1578) {Wokingham AWS May 09 2020};
\node[rotate=90,font=\fs{13}] at (137,1783) {Pressure (mbar)};
\node[font=\fs{13.5}] at (563,2018) {Time (GMT)};
% panel 5
\draw[line width=1.2pt] (107,2090) rectangle (943,2577);
\shbox{359}{2091}{666}{2134}
\node[font=\fs{18}] at (513,2113) {Wokingham AWS May 09 2020};
\shbox{453}{2445}{615}{2519}
\draw[line width=2.5pt] (465,2469)--(479,2469);
\draw[black!50,line width=0.8pt] (465,2497)--(479,2497);
\node[anchor=west,font=\fs{15}] at (484,2468) {Grass level temp};
\node[anchor=west,font=\fs{15}] at (484,2497) {Grass-air diff};
\node[rotate=90,font=\fs{13}] at (115,2330) {Grass Temp (Deg C)};
\node[rotate=90,font=\fs{13}] at (919,2330) {Grass Temp minus Air Temp (Deg C)};
\node[font=\fs{13.5}] at (516,2572) {Time GMT};
% panel 6
\draw[line width=1.2pt] (94,2636) rectangle (926,3117);
\fill[white] (237,2641) rectangle (529,2697);
\fill[white] (529,2641) rectangle (871,2685);
\node[font=\fs{18}] at (378,2658) {Wokingham AWS May 09 2020};
\node[font=\fs{18}] at (378,2679) {Rainfall (TBR)};
\node[font=\fs{17.5}] at (731,2664) {Corrected to equivalent of the standard gauge};
\node[rotate=90,font=\fs{13}] at (103,2847) {Rainfall ( mm)};
\node[rotate=90,font=\fs{13}] at (891,2847) {Rainfall (mm)};
\node[font=\fs{13.5}] at (506,3102) {Time (GMT)};
% panel 7
\draw[line width=1.2pt] (91,3168) rectangle (941,3636);
\fill[white] (364,3176) rectangle (694,3235);
\fill[white] (385,3235) rectangle (670,3292);
\node[font=\fs{17.5}] at (526,3188) {Wokingham sunshine};
\node[font=\fs{23.5}] at (526,3216) {09-May};
\node[font=\bfseries\fs{16.5}] at (538,3250) {2020};
\node[font=\fs{23.5}] at (538,3276) {Total 13.61 Hrs};
\node[rotate=90,font=\fs{13}] at (117,3384) {Sunshine (per cent per minute)};
\node[font=\fs{13}] at (549,3628) {Time (GMT)};
% panel 8
\draw[line width=1.2pt] (43,3726) rectangle (955,4242);
\fill[white] (450,3736) rectangle (731,3779);
\node[font=\fs{17.5}] at (588,3746) {Wokingham,\ \ 09 May 2020};
\node[font=\fs{13}] at (588,3765) {5 minute mean wind direction};
\node[rotate=90,font=\fs{13}] at (75,3970) {Direction, degrees true};
\node[font=\fs{13.5}] at (531,4229) {Time (GMT)};
% panel 9
\draw[line width=1.2pt] (43,4260) rectangle (955,4755);
\node[font=\fs{18}] at (271,4283) {Wokingham,\ \ 09 May 2020};
\node[font=\fs{13}] at (577,4274) {Wind speed, 10 min mean / max gust};
\node[font=\fs{13}] at (577,4290) {Speeds below 4 kt shown at x10 scale};
\shbox{730}{4266}{950}{4292}
\draw[line width=2pt] (762,4280)--(773,4280);
\node[anchor=west,font=\fs{11}] at (777,4280) {Speed x 1};
\filldraw[fill=black!22,draw=black!75,line width=0.5pt] (855,4274)--(859.5,4280)--(855,4286)--(850.5,4280)--cycle;
\node[anchor=west,font=\fs{11}] at (863,4280) {Speed / 10};
\node[rotate=90,font=\fs{13}] at (56,4495) {Speed (knots)};
\node[font=\fs{14}] at (524,4732) {Time (GMT)};
\end{scope}
\end{tikzpicture}
\end{document}
